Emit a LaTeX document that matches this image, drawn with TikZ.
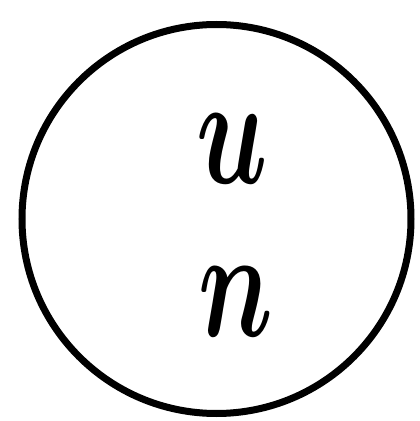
\documentclass[tikz,border=0pt]{standalone}
\usepackage{graphicx}
\begin{document}
\begin{tikzpicture}[x=1pt,y=1pt,
  letter/.style={inner sep=0pt, font=\boldmath}]
\useasboundingbox (0,0) rectangle (420,421);
\draw[line width=7pt] (216.5,202) circle[radius=194.5];
\node[letter] (u) at (232,272) {\scalebox{10.5}[15.6]{$u$}};
\node[letter] (n) at (236,119.5) {\scalebox{10.5}[15.6]{$n$}};
\end{tikzpicture}
\end{document}
